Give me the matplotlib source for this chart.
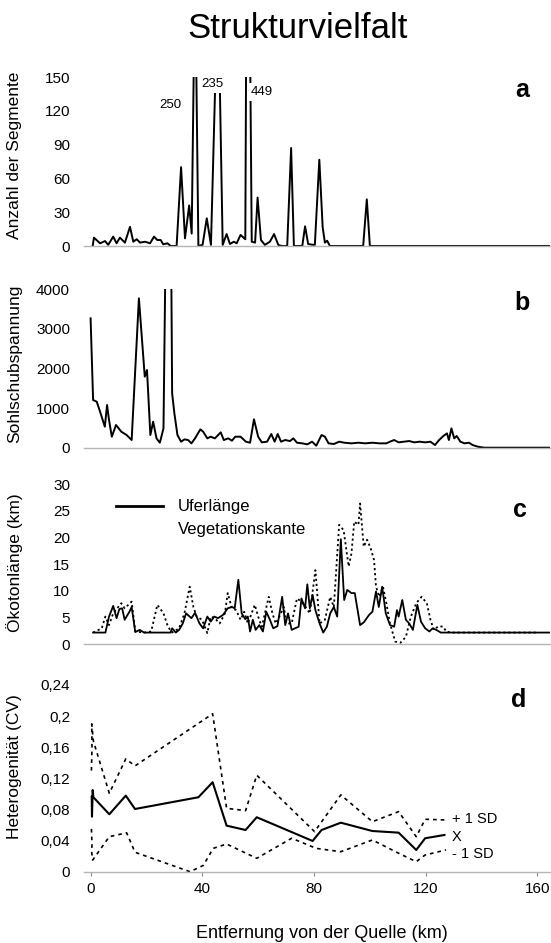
import matplotlib
matplotlib.use("Agg")
import matplotlib.pyplot as plt
from matplotlib.lines import Line2D

plt.rcParams['font.family'] = ['Liberation Sans', 'DejaVu Sans']

# ---------------- data ----------------
title = "Strukturvielfalt"
xlabel = "Entfernung von der Quelle (km)"

# panel a: Anzahl der Segmente
seg_km = [0.75, 1.2, 3.4, 5.2, 6.3, 8.1, 9.3, 10.5, 12.3, 14.1,
          15.3, 16.5, 17.7, 19.5, 21.3, 22.7, 23.9, 25.1, 26.0, 27.5,
          28.7, 30.8, 32.4, 33.8, 35.3, 36.2, 37.4, 38.6, 40.1, 41.6,
          43.1, 45.6, 47.3, 48.7, 49.9, 51.3, 52.3, 53.7, 55.4, 56.2,
          57.7, 58.9, 59.8, 61.0, 62.4, 64.2, 65.7, 67.2, 68.4, 70.4,
          71.8, 72.8, 75.8, 76.8, 77.9, 79.2, 80.3, 81.9, 83.1, 83.9,
          84.7, 85.7, 97.6, 98.9, 100.0, 164.5]
seg_n = [0, 7.4, 2.4, 4.4, 1, 8.3, 2.4, 7.4, 3, 17,
         3.8, 6, 3, 3.8, 2.4, 8.3, 5.3, 5.3, 1.5, 2.4,
         0, 0, 70, 6.8, 36, 11, 250, 0, 1, 24.6,
         1, 235, 1, 10.6, 1.8, 3.8, 2.4, 9.8, 6, 449,
         3.8, 3, 43, 5.3, 1, 3.8, 10.6, 1, 0, 0,
         87, 0, 0, 17.5, 1.8, 1.2, 1, 76.6, 16.6, 3,
         4.7, 0, 0, 41.4, 0, 0]
peak_labels = ["250", "235", "449"]
peak_label_km = [28.4, 43.6, 61.4]
peak_label_y = [125, 144, 137]

# panel b: Sohlschubspannung
tau_km = [0.0, 0.9, 2.2, 3.4, 5.1, 5.9, 6.6, 7.6, 9.1, 11.0,
          12.9, 14.7, 17.3, 19.4, 20.2, 21.4, 22.4, 23.6, 24.8, 26.1,
          28.1, 29.2, 30.0, 31.1, 32.4, 33.6, 34.9, 36.1, 37.4, 39.3,
          40.3, 41.8, 43.0, 44.5, 46.6, 47.7, 49.3, 50.6, 51.8, 53.7,
          55.6, 57.1, 58.5, 60.0, 61.3, 63.2, 64.7, 65.9, 67.0, 68.2,
          69.7, 71.4, 72.6, 73.9, 75.8, 77.6, 79.3, 80.8, 82.7, 83.9,
          85.2, 87.1, 89.0, 90.8, 93.4, 95.9, 98.4, 100.9, 103.4, 105.9,
          107.2, 108.7, 110.3, 112.2, 114.1, 115.9, 117.8, 119.8, 121.7, 123.3,
          124.8, 126.3, 127.6, 128.3, 129.2, 130.2, 131.1, 132.4, 133.9, 135.5,
          136.8, 138.7, 141.0, 164.5]
tau_val = [3267, 1204, 1162, 909, 530, 1078, 700, 278, 573, 404,
           320, 194, 3772, 1793, 1962, 320, 657, 236, 126, 488,
           12500, 1372, 867, 320, 152, 210, 194, 110, 236, 463,
           404, 236, 278, 236, 387, 194, 236, 177, 278, 278,
           152, 126, 716, 278, 135, 152, 345, 152, 345, 152,
           194, 168, 236, 126, 110, 84, 152, 50, 320, 278,
           110, 93, 152, 126, 110, 126, 110, 126, 110, 110,
           152, 194, 135, 152, 168, 135, 152, 135, 152, 67,
           194, 295, 362, 194, 488, 236, 295, 152, 110, 126,
           67, 25, 0, 0]

# panel c: Ökotonlänge
ufer_km = [0.9, 5.3, 6.6, 8.1, 9.3, 10.3, 11.3, 12.2, 13.9, 14.7,
           16.0, 17.6, 19.1, 28.6, 29.2, 30.5, 31.7, 33.0, 34.2, 36.1,
           37.4, 39.0, 40.3, 41.8, 43.0, 44.3, 45.6, 47.4, 49.1, 50.6,
           51.6, 52.9, 54.1, 55.4, 56.3, 57.1, 58.1, 59.1, 60.4, 61.7,
           62.9, 64.2, 65.4, 66.9, 68.6, 69.7, 70.7, 72.0, 73.2, 74.5,
           75.5, 76.8, 77.6, 78.5, 79.5, 80.5, 82.0, 83.3, 84.6, 85.8,
           87.1, 88.3, 89.6, 90.8, 91.9, 93.4, 94.6, 96.5, 97.8, 99.7,
           100.9, 102.2, 103.2, 104.4, 105.7, 107.2, 108.7, 109.7, 110.3, 111.6,
           112.9, 114.1, 115.4, 117.0, 118.3, 119.8, 121.3, 122.5, 123.8, 125.4,
           164.5]
ufer_val = [2.2, 2.2, 5.2, 7.2, 4.9, 6.6, 6.75, 4.6, 6.1, 7.0,
            2.3, 2.7, 2.2, 2.2, 3.0, 2.2, 2.7, 3.9, 5.8, 4.9,
            5.9, 3.9, 3.0, 5.2, 4.25, 5.2, 4.9, 5.5, 6.75, 7.0,
            6.75, 12.1, 5.8, 4.7, 5.2, 2.4, 4.6, 2.7, 3.6, 2.4,
            6.1, 4.6, 3.0, 3.4, 8.9, 3.6, 5.8, 2.7, 3.0, 3.3,
            8.6, 6.75, 11.25, 6.75, 9.25, 6.4, 3.9, 2.2, 3.3, 5.8,
            7.0, 5.2, 19.7, 8.3, 10.2, 9.6, 9.6, 3.6, 4.1, 5.5,
            6.1, 9.9, 7.0, 10.8, 5.8, 3.6, 3.3, 6.4, 5.2, 8.3,
            4.6, 3.9, 2.7, 7.4, 4.25, 3.0, 2.4, 3.0, 2.7, 2.2,
            2.2]
veg_km = [0.9, 4.0, 5.3, 6.6, 8.1, 11.0, 12.2, 14.7, 16.0, 19.1,
          21.7, 23.9, 26.1, 27.7, 29.2, 31.7, 33.6, 35.5, 36.8, 38.0,
          39.9, 41.8, 43.0, 44.5, 46.2, 48.1, 49.1, 50.6, 52.1, 53.7,
          55.0, 56.3, 58.8, 60.0, 61.3, 63.8, 65.1, 66.3, 67.6, 69.2,
          70.1, 72.0, 73.9, 75.5, 77.0, 78.5, 80.5, 82.0, 83.9, 85.8,
          87.1, 89.0, 90.6, 92.4, 93.4, 94.4, 95.9, 96.5, 97.8, 99.0,
          100.3, 101.5, 102.2, 103.4, 104.7, 105.9, 107.2, 109.1, 111.0, 112.9,
          114.7, 116.6, 118.5, 120.4, 121.7, 122.9, 124.6, 126.3, 127.3, 129.2,
          160.0]
veg_val = [2.2, 3.0, 5.2, 3.6, 5.8, 7.7, 6.75, 8.0, 2.4, 2.2,
           2.4, 7.4, 5.8, 3.3, 2.2, 3.0, 5.8, 10.8, 7.0, 5.2,
           4.6, 2.1, 5.2, 4.9, 3.9, 5.8, 9.6, 6.75, 6.4, 4.6,
           6.1, 3.9, 7.4, 5.2, 3.3, 8.9, 5.8, 3.9, 5.2, 7.0,
           3.9, 3.9, 8.6, 8.0, 7.0, 5.8, 13.9, 3.9, 4.6, 8.9,
           7.0, 22.4, 21.4, 14.6, 17.0, 23.0, 22.4, 26.4, 18.3, 19.6,
           18.0, 15.8, 10.8, 8.9, 10.8, 7.7, 3.9, 0.5, 0.3, 1.4,
           5.2, 7.7, 8.9, 7.7, 4.6, 2.7, 3.4, 3.3, 2.4, 2.2,
           2.2]
legend_labels = ["Uferlänge", "Vegetationskante"]

# panel d: Heterogenität (CV)
mean_km = [0.4, 0.5, 0.75, 1.0, 6.7, 12.6, 15.9, 38.6, 43.7, 48.7,
           55.5, 59.5, 79.5, 82.7, 89.6, 100.9, 110.3, 116.6, 119.8, 126.7]
mean_cv = [0.0965, 0.0707, 0.105, 0.0957, 0.0738, 0.0978, 0.0806, 0.0957, 0.115, 0.0592,
           0.0536, 0.070, 0.0395, 0.0536, 0.063, 0.0523, 0.0502, 0.0279, 0.043, 0.0472]
upper_km = [0.3, 0.5, 0.4, 1.0, 6.7, 12.6, 15.9, 43.7, 48.7, 55.5,
            59.5, 80.2, 89.6, 100.9, 110.3, 116.6, 119.8, 127.3]
upper_cv = [0.13, 0.16, 0.19, 0.168, 0.1008, 0.145, 0.136, 0.203, 0.0815, 0.0785,
            0.124, 0.0515, 0.0987, 0.0643, 0.0772, 0.045, 0.0674, 0.0665]
lower_km = [0.3, 0.5, 0.4, 0.75, 6.7, 12.9, 15.9, 35.6, 40.4, 43.9,
            48.7, 59.5, 72.0, 80.8, 89.6, 100.9, 110.3, 116.6, 119.8, 127.3]
lower_cv = [0.055, 0.035, 0.025, 0.015, 0.045, 0.050, 0.025, 0.0, 0.0082, 0.030,
            0.0356, 0.0172, 0.043, 0.030, 0.0257, 0.0408, 0.0237, 0.0129, 0.0215, 0.028]
series_labels_d = ["+ 1 SD", "X", "- 1 SD"]
series_label_y = [0.0674, 0.045, 0.0224]

yticks_a = [0, 30, 60, 90, 120, 150]
yticks_b = [0, 1000, 2000, 3000, 4000]
yticks_c = [0, 5, 10, 15, 20, 25, 30]
yticks_d = [0, 0.04, 0.08, 0.12, 0.16, 0.2, 0.24]
yticklabels_d = ["0", "0,04", "0,08", "0,12", "0,16", "0,2", "0,24"]
xticks_d = [0, 40, 80, 120, 160]
ylabels = ["Anzahl der Segmente", "Sohlschubspannung", "Ökotonlänge (km)", "Heterogenität (CV)"]
panel_letters = ["a", "b", "c", "d"]

# ---------------- layout ----------------
W, H = 551, 943
fig = plt.figure(figsize=(W / 100, H / 100), dpi=100)
XMIN, XMAX = -2.36, 164.5


def rect(top, bottom, left=84, right=550):
    return [left / W, 1 - bottom / H, (right - left) / W, (bottom - top) / H]


def style(ax):
    for s in ("top", "right", "left"):
        ax.spines[s].set_visible(False)
    ax.spines["bottom"].set_color("#b5b5b5")
    ax.spines["bottom"].set_linewidth(1.0)
    ax.set_xlim(XMIN, XMAX)
    ax.tick_params(axis="y", length=0, pad=10, labelsize=11)
    ax.tick_params(axis="x", length=0, labelbottom=False)


ax_a = fig.add_axes(rect(77, 246))
ax_b = fig.add_axes(rect(289.3, 447.7))
ax_c = fig.add_axes(rect(484.3, 644.3))
ax_d = fig.add_axes(rect(685, 871.7))
for ax in (ax_a, ax_b, ax_c, ax_d):
    style(ax)

# panel a
ax_a.plot(seg_km, seg_n, color="black", lw=1.4)
ax_a.set_ylim(0, 150)
ax_a.set_yticks(yticks_a)
for lab, xk, yv in zip(peak_labels, peak_label_km, peak_label_y):
    ax_a.text(xk, yv, lab, fontsize=9.5, ha="center", va="center", zorder=5,
              bbox=dict(boxstyle="square,pad=0.22", fc="white", ec="none"))

# panel b
ax_b.plot(tau_km, tau_val, color="black", lw=1.4)
ax_b.set_ylim(0, 4000)
ax_b.set_yticks(yticks_b)

# panel c
dot = (0, (1.2, 1.6))
ax_c.plot(ufer_km, ufer_val, color="black", lw=1.3)
ax_c.plot(veg_km, veg_val, color="black", lw=1.3, linestyle=dot)
ax_c.set_ylim(0, 30)
ax_c.set_yticks(yticks_c)
h1 = Line2D([], [], color="black", lw=2.0)
h2 = Line2D([], [], color="black", lw=1.3, linestyle="none")  # no visible sample in the original
ax_c.legend([h1, h2], legend_labels, loc="upper left", bbox_to_anchor=(0.0687, 0.905),
            frameon=False, fontsize=12, handlelength=2.8, handletextpad=0.9,
            labelspacing=0.45, borderpad=0, borderaxespad=0)

# panel d
dash = (0, (2.2, 2.4))
ax_d.plot(upper_km, upper_cv, color="black", lw=1.2, linestyle=dash)
ax_d.plot(mean_km, mean_cv, color="black", lw=1.5)
ax_d.plot(lower_km, lower_cv, color="black", lw=1.2, linestyle=dash)
ax_d.set_ylim(0, 0.24)
ax_d.set_yticks(yticks_d)
ax_d.set_yticklabels(yticklabels_d)
ax_d.set_xticks(xticks_d)
ax_d.tick_params(axis="x", length=3, width=0.8, color="#888888", direction="out",
                 labelbottom=True, labelsize=11, pad=4.5)
for lab, yv in zip(series_labels_d, series_label_y):
    ax_d.text(129.3, yv, lab, fontsize=10.5, ha="left", va="center")

# text elements
fig.text(297.5 / W, 1 - 38.3 / H, title, fontsize=25, ha="center", va="baseline")
fig.text(322 / W, 1 - 938 / H, xlabel, fontsize=13, ha="center", va="baseline")
for lab, yc in zip(ylabels, [155, 364, 562.5, 766.7]):
    fig.text(15 / W, 1 - yc / H, lab, fontsize=12.5, rotation=90, ha="center", va="center")
for letter, xc, yb in zip(panel_letters, [521.8, 521.8, 520, 518.3], [96.7, 310, 516.7, 706.7]):
    fig.text(xc / W, 1 - yb / H, letter, fontsize=18, fontweight="bold", ha="center", va="baseline")

fig.savefig("out.png", dpi=100)
